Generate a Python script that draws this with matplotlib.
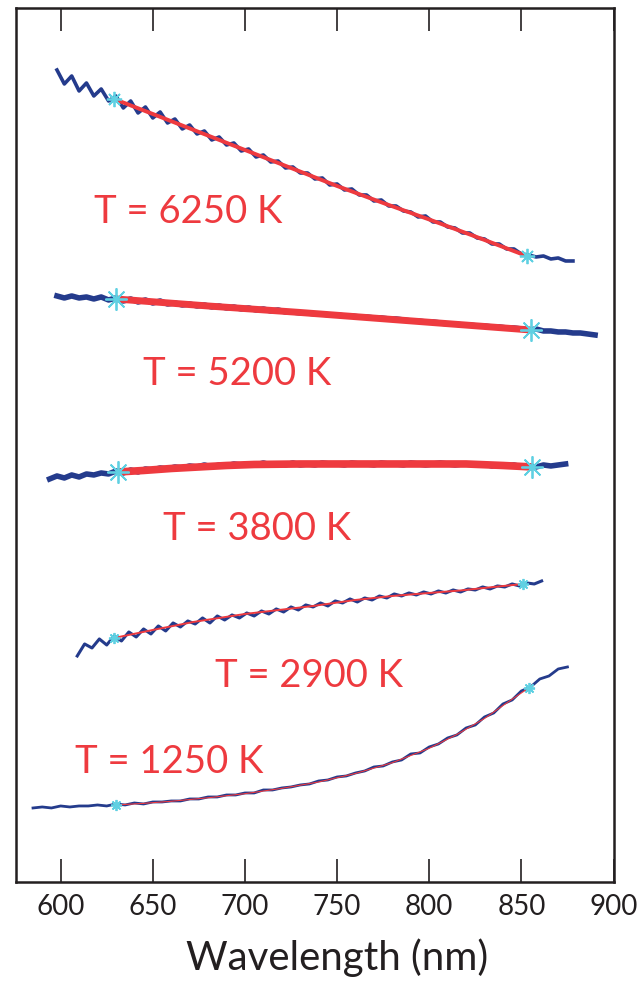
import numpy as np
import matplotlib
matplotlib.use("Agg")
import matplotlib.pyplot as plt

plt.rcParams['font.family'] = ['Lato', 'DejaVu Sans']

# spectra (blue, noisy) - wavelength grids and offset intensities (arb. units)
nm_6250 = np.arange(598, 879, 4)
spec_6250 = [812, 798, 806, 791, 799, 786, 793, 781, 786, 774,
             781, 769, 775, 764, 770, 759, 763, 753, 757, 748,
             751, 742, 745, 737, 739, 731, 733, 725, 727, 720,
             721, 714, 715, 709, 709, 703, 704, 697, 698, 692,
             693, 687, 687, 681, 682, 676, 676, 671, 670, 665,
             666, 660, 660, 655, 654, 649, 649, 644, 643, 638,
             638, 633, 633, 628, 627, 625, 626, 623, 624, 621,
             621]

nm_5200 = np.arange(598, 891, 4)
spec_5200 = [586, 584, 586, 584, 585, 583, 585, 582, 584, 581,
             583, 580, 582, 579, 581, 578, 579, 577, 578, 576,
             577, 575, 576, 574, 575, 573, 574, 572, 573, 571,
             572, 570, 570, 569, 569, 568, 568, 567, 567, 566,
             566, 565, 565, 564, 564, 563, 563, 562, 561, 561,
             560, 560, 559, 558, 558, 557, 557, 556, 556, 555,
             555, 554, 554, 553, 552, 553, 551, 551, 550, 550,
             549, 549, 548, 547]

nm_3800 = np.arange(594, 875, 4)
spec_3800 = [403, 406, 404, 407, 405, 408, 407, 409, 408, 411,
             409, 412, 410, 413, 412, 414, 413, 415, 414, 416,
             415, 417, 415, 417, 416, 418, 417, 418, 417, 419,
             417, 418, 417, 419, 417, 418, 417, 419, 418, 418,
             417, 419, 418, 418, 417, 419, 418, 418, 417, 419,
             418, 417, 418, 419, 418, 417, 418, 418, 417, 418,
             416, 417, 416, 417, 415, 416, 415, 417, 416, 417,
             418]

nm_2900 = np.arange(609, 862, 4)
spec_2900 = [226, 238, 234, 243, 237, 246, 241, 250, 245, 253,
             248, 256, 251, 259, 255, 261, 258, 264, 259, 266,
             262, 267, 264, 269, 266, 271, 268, 273, 270, 275,
             272, 277, 275, 279, 276, 281, 279, 283, 280, 284,
             282, 286, 284, 288, 286, 289, 287, 290, 288, 291,
             289, 292, 290, 293, 292, 295, 293, 296, 295, 298,
             296, 299, 298, 301]

nm_1250 = np.arange(585, 876, 5)
spec_1250 = [74, 75, 74, 76, 75, 76, 76, 77, 76, 78,
             77, 79, 78, 80, 80, 81, 81, 83, 83, 85,
             85, 87, 87, 89, 89, 92, 92, 94, 95, 97,
             98, 101, 102, 105, 106, 109, 111, 115, 116, 120,
             122, 128, 129, 135, 138, 144, 147, 154, 157, 165,
             169, 178, 182, 191, 195, 203, 206, 213, 215]

# blackbody fits (red) between the two fit limits
fit_nm_6250 = [629, 650, 675, 700, 725, 750, 775, 800, 825, 853]
fit_6250 = [783, 768, 750, 732, 714, 696, 679, 662.5, 645.5, 626]
fit_nm_5200 = [630, 680, 730, 780, 830, 855]
fit_5200 = [583, 576, 569.5, 562.5, 555.5, 552]
fit_nm_3800 = [631, 645, 660, 675, 690, 705, 730, 760, 790, 820, 840, 856]
fit_3800 = [410, 411.5, 413.5, 415, 416.5, 417.5, 418, 418, 418, 418, 416.5, 415]
fit_nm_2900 = [629, 650, 672, 700, 737, 760, 780, 800, 817, 835, 851]
fit_2900 = [244, 252, 260, 268, 276, 282, 286, 289, 291.5, 295, 298]
fit_nm_1250 = [630, 645, 660, 680, 700, 720, 740, 760, 780, 800, 815, 830, 845, 854]
fit_1250 = [77, 78.6, 80.7, 84.2, 88.3, 93.6, 100, 108.5, 119.3, 133.7, 147.5, 163.5, 182.8, 194]

labels = ["T = 6250 K", "T = 5200 K", "T = 3800 K", "T = 2900 K", "T = 1250 K"]
xticks = [600, 650, 700, 750, 800, 850, 900]

blue = '#243b8c'
red = '#ee3a3f'
cyan = '#5fd0e2'
dark = '#231f20'

fig = plt.figure(figsize=(6.39, 9.87), dpi=100)
ax = fig.add_axes([0.0257, 0.1054, 0.9344, 0.8855])

# x, y, fit x, fit y, blue lw, red lw, marker size
curves = [
    (nm_6250, spec_6250, fit_nm_6250, fit_6250, 2.6, 2.8, 11),
    (nm_5200, spec_5200, fit_nm_5200, fit_5200, 4.0, 5.0, 16),
    (nm_3800, spec_3800, fit_nm_3800, fit_3800, 4.0, 5.5, 16),
    (nm_2900, spec_2900, fit_nm_2900, fit_2900, 2.2, 1.4, 8),
    (nm_1250, spec_1250, fit_nm_1250, fit_1250, 2.0, 0.8, 8),
]
for x, y, fx, fy, lwb, lwr, ms in curves:
    ax.plot(x, y, color=blue, lw=lwb, zorder=2)
    ax.plot(fx, fy, color=red, lw=lwr, solid_capstyle='butt', zorder=3)
    ax.plot([fx[0], fx[-1]], [fy[0], fy[-1]], ls='none', marker=(8, 2, 0),
            ms=ms, mew=1.3, color=cyan, zorder=4)

# temperature labels
label_pos = [(618.1, 660), (644.7, 498), (655.6, 343), (683.8, 196), (607.8, 110)]
for txt, (lx, ly) in zip(labels, label_pos):
    ax.text(lx, ly, txt, color=red, fontsize=27.5, ha='left', va='baseline')

ax.set_xlim(576, 900)
ax.set_ylim(0, 874)
ax.set_yticks([])
ax.set_xticks(xticks)
ax.tick_params(axis='x', direction='in', length=16.5, width=1.2, top=True,
               labelsize=20, pad=8, colors=dark)
for s in ax.spines.values():
    s.set_linewidth(1.8)
    s.set_color(dark)
ax.set_xlabel('Wavelength (nm)', fontsize=29, color=dark, labelpad=13)
ax.xaxis.label.set_x(0.537)

fig.savefig('out.png', dpi=100)
